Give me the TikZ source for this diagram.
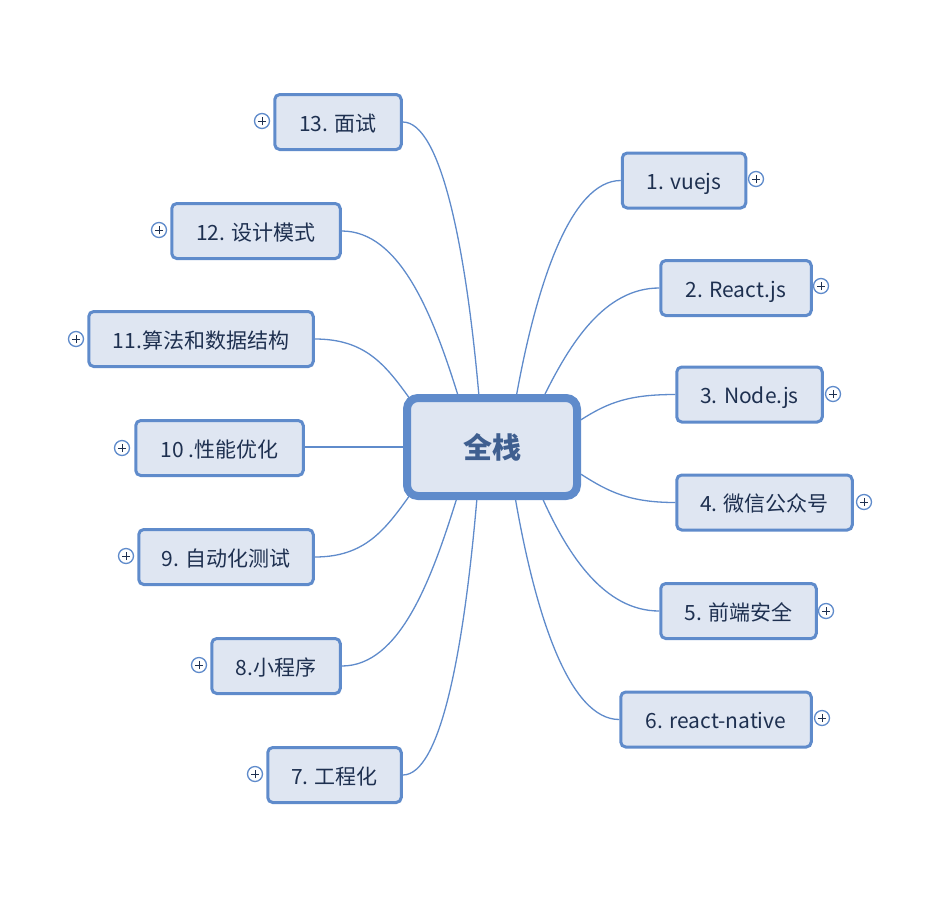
\documentclass[tikz,border=0pt]{standalone}
\usepackage{fontspec}
\setmainfont{Noto Sans CJK SC}
\definecolor{boxfill}{HTML}{DFE6F2}
\definecolor{boxline}{HTML}{5F8BCB}
\definecolor{boxtext}{HTML}{1E3050}
\definecolor{roottext}{HTML}{3F5F90}
\tikzset{%
    topic/.style={draw=boxline,fill=boxfill,line width=3pt,rounded corners=5pt,inner sep=0pt,
        minimum height=55pt,text height=22pt,text depth=4pt,text=boxtext,font=\fontsize{21}{24}\selectfont}
}

\begin{document}
\begin{tikzpicture}[
        x=1pt,y=1pt,
        root/.style={draw=boxline,fill=boxfill,line width=8pt,rounded corners=11pt,inner sep=0pt,
            minimum width=170pt,minimum height=98pt,text=roottext,font=\fontsize{29}{32}\selectfont\bfseries},
        edge/.style={draw=boxline,line width=1.3pt},
        plus/.style={circle,draw=boxline,fill=white,line width=1.3pt,minimum size=15pt,inner sep=0pt,
            path picture={\draw[boxtext,line width=0.9pt] (-4pt,0) -- (4pt,0) (0,-4pt) -- (0,4pt);}}
        ]
        \useasboundingbox (0,0) rectangle (928,-900);

        \node[root] (root) at (492,-447) {全栈};
        \coordinate (rootnw) at (410,-399);
        \coordinate (rootsw) at (410,-495);

        \node[topic, minimum width=123.5pt] (t1) at (684,-180.5) {1. vuejs};
        \node[topic, minimum width=150.5pt] (t2) at (736,-288) {2. React.js};
        \node[topic, minimum width=145.5pt] (t3) at (749.5,-394.5) {3. Node.js};
        \node[topic, minimum width=175.5pt] (t4) at (764.5,-502.5) {4. 微信公众号};
        \node[topic, minimum width=155.5pt] (t5) at (738.5,-611) {5. 前端安全};
        \node[topic, minimum width=190.5pt] (t6) at (716,-719.5) {6. react-native};
        \node[topic, minimum width=133.5pt] (t7) at (334.5,-775) {7. 工程化};
        \node[topic, minimum width=128.5pt] (t8) at (276,-666) {8.小程序};
        \node[topic, minimum width=174.5pt] (t9) at (226,-557) {9. 自动化测试};
        \node[topic, minimum width=167.5pt] (t10) at (219.5,-448) {10 .性能优化};
        \node[topic, minimum width=224.5pt] (t11) at (201,-339) {11.算法和数据结构};
        \node[topic, minimum width=168.5pt] (t12) at (256,-231) {12. 设计模式};
        \node[topic, minimum width=126.5pt] (t13) at (338,-122) {13. 面试};

        \node[plus] (p1) at (756,-179) {};
        \node[plus] (p2) at (821,-286) {};
        \node[plus] (p3) at (833,-394) {};
        \node[plus] (p4) at (864,-502) {};
        \node[plus] (p5) at (826,-611) {};
        \node[plus] (p6) at (822,-718) {};
        \node[plus] (p7) at (255,-774) {};
        \node[plus] (p8) at (199,-665) {};
        \node[plus] (p9) at (126,-556) {};
        \node[plus] (p10) at (122,-448) {};
        \node[plus] (p11) at (76,-339) {};
        \node[plus] (p12) at (159,-230) {};
        \node[plus] (p13) at (262,-121) {};

        \draw[edge] (root.65.6) .. controls +(20,110) and +(-50,0) .. (t1.west);
        \draw[edge] (root.45.5) .. controls +(25,50) and +(-55,0) .. (t2.west);
        \draw[edge] (root.17.5) .. controls +(28,18) and +(-45,0) .. (t3.west);
        \draw[edge] (root.-17.5) .. controls +(28,-18) and +(-45,0) .. (t4.west);
        \draw[edge] (root.-46.1) .. controls +(25,-55) and +(-55,0) .. (t5.west);
        \draw[edge] (root.-66.5) .. controls +(20,-115) and +(-50,0) .. (t6.west);
        \draw[edge] (root.254.2) .. controls +(-13,-150) and +(38,0) .. (t7.east);
        \draw[edge] (root.236.6) .. controls +(-25,-80) and +(58,0) .. (t8.east);
        \draw[edge] (rootsw) .. controls +(-25,-35) and +(50,0) .. (t9.east);
        \draw[edge] (root.west) -- (root.west -| t10.east);
        \draw[edge] (rootnw) .. controls +(-25,35) and +(50,0) .. (t11.east);
        \draw[edge] (root.123.4) .. controls +(-25,80) and +(58,0) .. (t12.east);
        \draw[edge] (root.104.8) .. controls +(-13,147) and +(38,0) .. (t13.east);
    \end{tikzpicture}
\end{document}
